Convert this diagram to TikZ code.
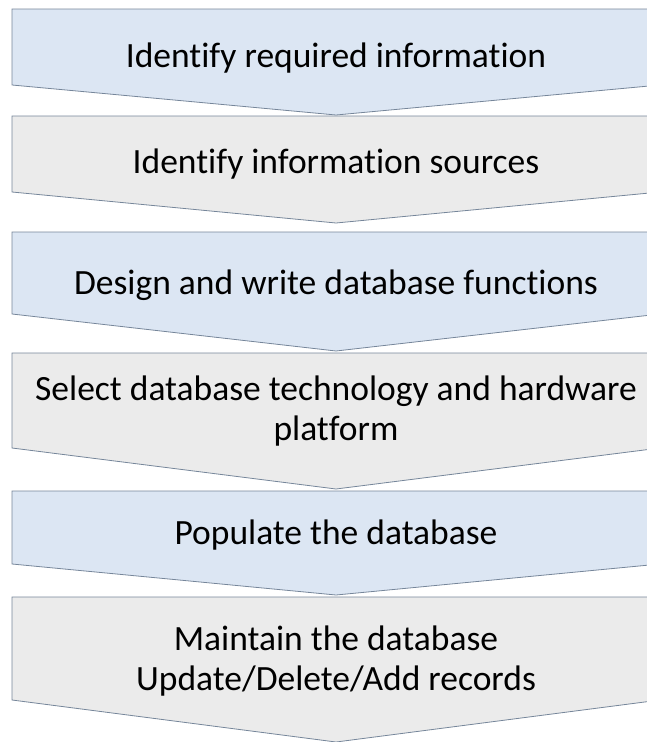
\documentclass[tikz,border=0pt]{standalone}
\usepackage{fontspec}
\setmainfont{Carlito}[RawFeature={-liga;-clig;-dlig}]
\definecolor{stepblue}{HTML}{DCE6F3}
\definecolor{stepgray}{HTML}{EBEBEB}
\definecolor{stepline}{HTML}{76869A}
\begin{document}
\begin{tikzpicture}[x=1pt,y=-1pt]

\tikzset{line/.style={draw=stepline,line width=0.8pt}}
\tikzset{bluestep/.style={line,fill=stepblue}}
\tikzset{graystep/.style={line,fill=stepgray}}
\tikzset{steptext/.style={anchor=base,align=center,inner sep=0pt,font=\fontsize{35.5}{40}\selectfont}}

\useasboundingbox (0,0) rectangle (647,742);
\clip (0,0) rectangle (647,742);

\path[bluestep] (12,9) -- (660,9) -- (660,85) -- (336,115) -- (12,85) -- cycle;
\node[steptext] (s1) at (336,67) {Identify required information};

\path[graystep] (12,116) -- (660,116) -- (660,192) -- (336,223) -- (12,192) -- cycle;
\node[steptext] (s2) at (336,173) {Identify information sources};

\path[bluestep] (12,232) -- (660,232) -- (660,314) -- (336,351) -- (12,314) -- cycle;
\node[steptext] (s3) at (336,294) {Design and write database functions};

\path[graystep] (12,353) -- (660,353) -- (660,448) -- (336,489) -- (12,448) -- cycle;
\node[steptext] (s4) at (336,440) {Select database technology and hardware\\platform};

\path[bluestep] (12,491) -- (660,491) -- (660,564) -- (336,595) -- (12,564) -- cycle;
\node[steptext] (s5) at (336,544) {Populate the database};

\path[graystep] (12,597) -- (660,597) -- (660,700) -- (336,742) -- (12,700) -- cycle;
\node[steptext] (s6) at (336,690) {Maintain the database\\Update/Delete/Add records};

\end{tikzpicture}
\end{document}
